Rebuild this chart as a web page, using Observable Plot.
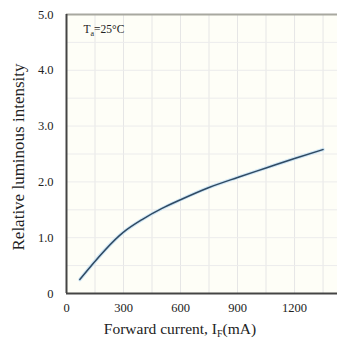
<!DOCTYPE html>
<html>
<head>
<meta charset="utf-8">
<script src="https://cdn.jsdelivr.net/npm/d3@7"></script>
<script src="https://cdn.jsdelivr.net/npm/@observablehq/plot@0.6"></script>
<style>
  html, body { margin: 0; padding: 0; background: #fff; }
  #chart svg { display: block; }
</style>
</head>
<body>
<div id="chart"></div>
<script>
const currents = [70, 300, 400, 500, 600, 750, 900, 1050, 1200, 1350];
const intensities = [0.25, 1.10, 1.33, 1.52, 1.68, 1.90, 2.08, 2.25, 2.42, 2.58];
const xTicks = [0, 300, 600, 900, 1200];
const yTicks = [0, 1, 2, 3, 4, 5];
const xGrid = [150, 300, 450, 600, 750, 900, 1050, 1200, 1350];
const yGrid = [0.5, 1, 1.5, 2, 2.5, 3, 3.5, 4, 4.5];
const note = "Ta=25°C";
const xLabel = "Forward current, IF(mA)";
const yLabel = "Relative luminous intensity";

const data = currents.map((c, i) => ({c, v: intensities[i]}));

const chart = Plot.plot({
  width: 337,
  height: 347,
  marginLeft: 66,
  marginRight: 0,
  marginTop: 14,
  marginBottom: 54,
  style: {fontFamily: "'Liberation Serif', 'DejaVu Serif', serif", fontSize: "12px", color: "#222", background: "#fff"},
  x: {domain: [0, 1426]},
  y: {domain: [0, 5]},
  marks: [
    Plot.frame({fill: "#fefef7", stroke: null}),
    Plot.gridX(xGrid, {stroke: "#e6e6e6", strokeOpacity: 1}),
    Plot.gridY(yGrid, {stroke: "#ececec", strokeOpacity: 1}),
    Plot.axisX(xTicks, {tickSize: 0, tickPadding: 10, tickFormat: d => String(d), label: null, fontSize: 12.5}),
    Plot.axisY(yTicks, {tickSize: 0, tickPadding: 13, tickFormat: d => d === 0 ? "0" : d.toFixed(1), label: null, fontSize: 12.5}),
    Plot.ruleY([5], {stroke: "#a8a8a0", strokeWidth: 2}),
    Plot.ruleY([0], {stroke: "#444", strokeWidth: 2}),
    Plot.ruleX([0], {stroke: "#444", strokeWidth: 2}),
    Plot.line(data, {x: "c", y: "v", stroke: "#cfe6f5", strokeWidth: 3.5, curve: "monotone-x"}),
    Plot.line(data, {x: "c", y: "v", stroke: "#2f4a63", strokeWidth: 1.5, curve: "monotone-x"}),
    Plot.text([note], {frameAnchor: "top-left", dx: 17, dy: 10, fontSize: 11.5, textAnchor: "start", fill: "#222"}),
    Plot.text([xLabel], {frameAnchor: "bottom", dx: -22, dy: 40, fontSize: 15.5, fill: "#222"}),
    Plot.text([yLabel], {frameAnchor: "left", textAnchor: "middle", dx: -48, dy: 3, rotate: -90, fontSize: 17, fill: "#222"})
  ]
});

document.getElementById("chart").appendChild(chart);

// Subscripts
const svg = d3.select(chart);
svg.selectAll("text").each(function() {
  const t = d3.select(this);
  const s = t.text();
  if (s === xLabel) {
    t.text(null);
    t.append("tspan").text("Forward current, I");
    t.append("tspan").attr("font-size", 10).attr("dy", 3).text("F");
    t.append("tspan").attr("dy", -3).text("(mA)");
  } else if (s === note) {
    t.text(null);
    t.append("tspan").text("T");
    t.append("tspan").attr("font-size", 8).attr("dy", 3).text("a");
    t.append("tspan").attr("dy", -3).text("=25°C");
  }
});
</script>
</body>
</html>
